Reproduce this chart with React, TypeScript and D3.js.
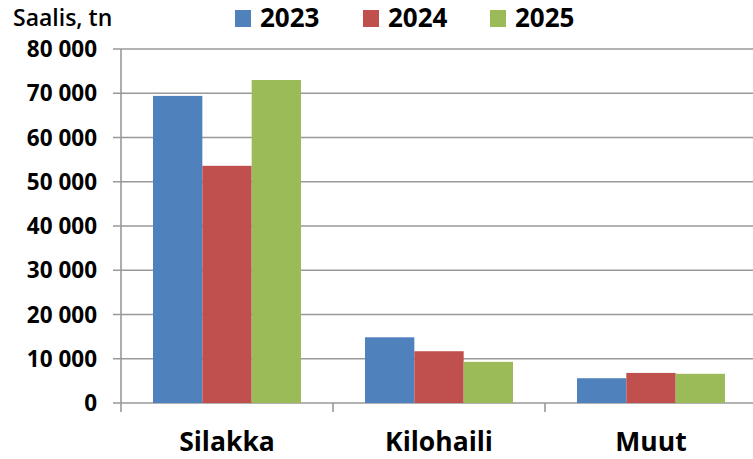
import { useEffect, useRef } from 'react'
import * as d3 from 'd3'

// Saaliit lajeittain
const categories = ['Silakka', 'Kilohaili', 'Muut']
const years = ['2023', '2024', '2025']
const values2023 = [69400, 14850, 5600]
const values2024 = [53600, 11700, 6800]
const values2025 = [73000, 9300, 6600]
const yTicks = [0, 10000, 20000, 30000, 40000, 50000, 60000, 70000, 80000]
const colors = ['#4f81bd', '#c0504d', '#9bbb59']

const FONT = '"Open Sans", "Liberation Sans", sans-serif'

export default function App() {
  const ref = useRef<SVGSVGElement>(null)

  useEffect(() => {
    const width = 753
    const height = 459
    const margin = { top: 49, right: -4, bottom: 56, left: 121 }

    const series = [values2023, values2024, values2025]
    const rows = categories.map((c, i) => ({
      category: c,
      values: years.map((yr, j) => ({ year: yr, value: series[j][i] })),
    }))

    const svg = d3.select(ref.current)
    svg.selectAll('*').remove()
    svg.attr('width', width).attr('height', height).attr('viewBox', [0, 0, width, height])

    const x0 = d3.scaleBand()
      .domain(categories)
      .range([margin.left, width - margin.right])
      .padding(0)

    const gap = x0.bandwidth() * 0.151
    const x1 = d3.scaleBand()
      .domain(years)
      .range([gap, x0.bandwidth() - gap])
      .padding(0)

    const y = d3.scaleLinear()
      .domain([0, 80000])
      .range([height - margin.bottom, margin.top])

    const fmt = (v: number) => d3.format(',')(v).replace(/,/g, ' ')

    // gridlines
    svg.append('g')
      .attr('stroke', '#999')
      .attr('stroke-width', 1.5)
      .selectAll('line')
      .data(yTicks)
      .join('line')
      .attr('x1', margin.left - 8)
      .attr('x2', width)
      .attr('y1', (d) => y(d))
      .attr('y2', (d) => y(d))

    // y-akseli
    svg.append('line')
      .attr('x1', margin.left).attr('x2', margin.left)
      .attr('y1', y(80000)).attr('y2', y(0) + 9)
      .attr('stroke', '#999').attr('stroke-width', 1.6)

    // kategoriarajat
    svg.append('g')
      .attr('stroke', '#999')
      .attr('stroke-width', 1.6)
      .selectAll('line')
      .data(categories.slice(1))
      .join('line')
      .attr('x1', (d) => x0(d)!)
      .attr('x2', (d) => x0(d)!)
      .attr('y1', y(0))
      .attr('y2', y(0) + 9)

    // bars
    svg.append('g')
      .selectAll('g')
      .data(rows)
      .join('g')
      .attr('transform', (d) => `translate(${x0(d.category)},0)`)
      .selectAll('rect')
      .data((d) => d.values)
      .join('rect')
      .attr('x', (d) => x1(d.year)!)
      .attr('y', (d) => y(d.value))
      .attr('width', x1.bandwidth())
      .attr('height', (d) => y(0) - y(d.value))
      .attr('fill', (d, i) => colors[i])

    // y tick labels
    svg.append('g')
      .selectAll('text')
      .data(yTicks)
      .join('text')
      .attr('x', 97)
      .attr('y', (d) => y(d))
      .attr('dy', '0.36em')
      .attr('text-anchor', 'end')
      .attr('font-family', FONT)
      .attr('font-weight', 'bold')
      .attr('font-size', 22.5)
      .attr('fill', '#000')
      .text((d) => fmt(d))

    // category labels
    svg.append('g')
      .selectAll('text')
      .data(categories)
      .join('text')
      .attr('x', (d) => x0(d)! + x0.bandwidth() / 2)
      .attr('y', 451)
      .attr('text-anchor', 'middle')
      .attr('font-family', FONT)
      .attr('font-weight', 'bold')
      .attr('font-size', 26.5)
      .attr('fill', '#000')
      .text((d) => d)

    // unit title
    svg.append('text')
      .attr('x', 13)
      .attr('y', 26)
      .attr('font-family', FONT)
      .attr('font-weight', 600)
      .attr('font-size', 23)
      .attr('fill', '#000')
      .text('Saalis, tn')

    // legend
    const legendX = [235, 363, 490]
    const legend = svg.append('g')
      .selectAll('g')
      .data(years)
      .join('g')
      .attr('transform', (d, i) => `translate(${legendX[i]},0)`)
    legend.append('rect')
      .attr('x', 0).attr('y', 10)
      .attr('width', 16).attr('height', 17)
      .attr('fill', (d, i) => colors[i])
    legend.append('text')
      .attr('x', 25)
      .attr('y', 27)
      .attr('font-family', FONT)
      .attr('font-weight', 'bold')
      .attr('font-size', 26)
      .attr('fill', '#000')
      .text((d) => d)
  }, [])

  return <svg ref={ref} style={{ position: 'absolute', left: 0, top: 0 }} />
}
